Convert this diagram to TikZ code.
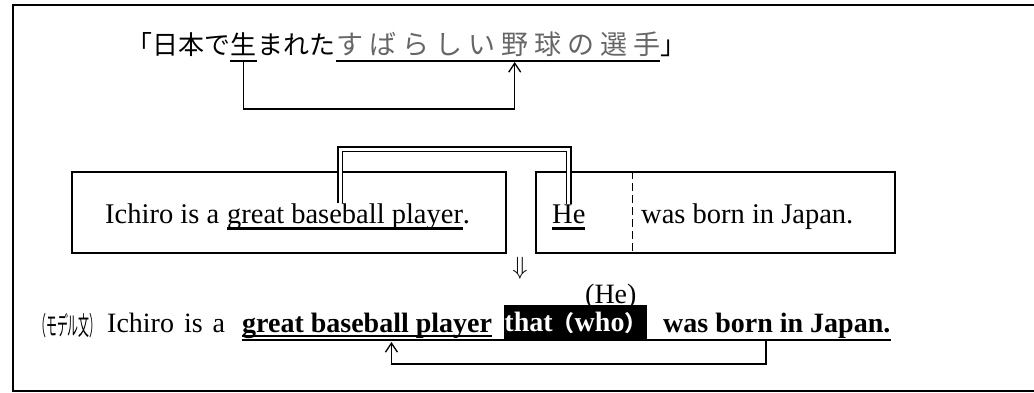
\documentclass[tikz,border=0pt]{standalone}
\usepackage{fontspec}
\setmainfont{Liberation Serif}
\newfontfamily\cjk{Noto Sans CJK JP}
\usepackage{graphicx}
\usetikzlibrary{positioning,calc,arrows.meta}

\newsavebox\ulbox
\newcommand\ulbold[2][-6.5pt]{\sbox\ulbox{#2}\rlap{\rule[#1]{\wd\ulbox}{2.5pt}}\usebox\ulbox}

\begin{document}
\begin{tikzpicture}[x=1pt, y=-1pt,
    txt/.style={font=\fontsize{28.5}{34}\selectfont, inner sep=0pt, anchor=base west},
    boldtxt/.style={txt, font=\fontsize{28}{34}\selectfont\bfseries},
    jp/.style={font=\cjk\fontsize{26}{30}\selectfont, inner sep=0pt, anchor=base west},
    sentbox/.style={draw, line width=1.5pt, minimum height=81pt, inner sep=0pt},
    conn/.style={line width=1.3pt},
    uline/.style={line width=1.5pt},
    reflink/.style={double, double distance=3pt, line width=1.2pt},
    backarrow/.style={conn, -{Straight Barb[length=9pt,width=12pt]}}
]
\useasboundingbox (0,0) rectangle (1034,392);

% outer frame
\draw[line width=2pt] (1040,5) -- (13,5) -- (13,391) -- (1040,391);

% Japanese phrase
\node[jp] (nihon) at (126,54) {「日本で};
\node[jp] (sei) at (nihon.base east) {生};
\node[jp] (mareta) at (sei.base east) {まれた};
\foreach \c [count=\i] in {す,ば,ら,し,い,野,球,の,選,手}
  \node[jp, font=\cjk\fontsize{27}{30}\selectfont, text=black!60] (c\i) at (336+33*\i-33,54) {\c};
\node[jp] (close) at (c10.base east) {」};
\draw[uline] ($(sei.base west)+(0,7)$) -- ($(sei.base east)+(0,7)$);
\draw[uline] ($(c1.base west)+(0,7)$) -- ($(c10.base east)+(0,7)$);
\coordinate (seiFoot) at ($(sei.base)+(0,7)$);
\coordinate (yakyuFoot) at ($(c6.base)+(0,8)$);
\draw[backarrow] (seiFoot) -- ++(0,48) -| (yakyuFoot);

% the two sentences
\node[sentbox, minimum width=434pt] (boxA) at (289,212.5) {};
\node[sentbox, minimum width=359pt] (boxB) at (715.5,212.5) {};
\node[txt] (ichiro) at (105,223) {Ichiro is a};
\node[txt] (gbp) at (227,223) {\ulbold{great baseball player}.};
\node[txt] (he) at (552,223) {\ulbold{He}};
\node[txt] (born) at (641,223) {was born in Japan.};
\draw[line width=1.5pt, dash pattern=on 8pt off 4pt] (boxB.north west) ++(97,0) -- ++(0,81);
\coordinate (gbpTop) at ($(gbp.north west)!0.465!(gbp.north east)$);
\draw[reflink] (gbpTop) -- ++(0,-54) -| (he.north);

\node[font=\fontsize{26}{30}\selectfont, inner sep=0pt] (then) at (520,268) {$\Downarrow$};

% model sentence
\node[inner sep=0pt, anchor=base west] (model) at (35,335) {\scalebox{0.42}[1]{\cjk\fontsize{26}{30}\selectfont （モデル文）}};
\node[txt, font=\fontsize{28}{34}\selectfont] (ichiro2) at (107,332) {Ichiro\hspace{3pt} is\hspace{3pt} a};
\node[boldtxt] (gbp2) at (242,332) {\ulbold[-5.25pt]{great baseball player}};
\node[boldtxt] (born2) at (663,332) {was born in Japan.};
\draw[uline] ($(gbp2.base west)+(0,8)$) -- ($(born2.base east)+(0,8)$);
\node[fill=black, text=white, minimum width=141pt, minimum height=36pt, inner sep=0pt,
      font=\fontsize{28}{34}\selectfont\bfseries] (that) at (575.5,323)
      {that{\cjk\fontsize{22}{26}\selectfont （}who{\cjk\fontsize{22}{26}\selectfont ）}};
\node[txt, font=\fontsize{28}{34}\selectfont] (he2) at (585,303) {(He)};
\coordinate (bornFoot) at ($(born2.base west)!0.452!(born2.base east)+(0,8)$);
\coordinate (playerFoot) at ($(gbp2.base west)!0.597!(gbp2.base east)+(0,10)$);
\draw[backarrow] (bornFoot) -- ++(0,24) -| (playerFoot);

\end{tikzpicture}
\end{document}
